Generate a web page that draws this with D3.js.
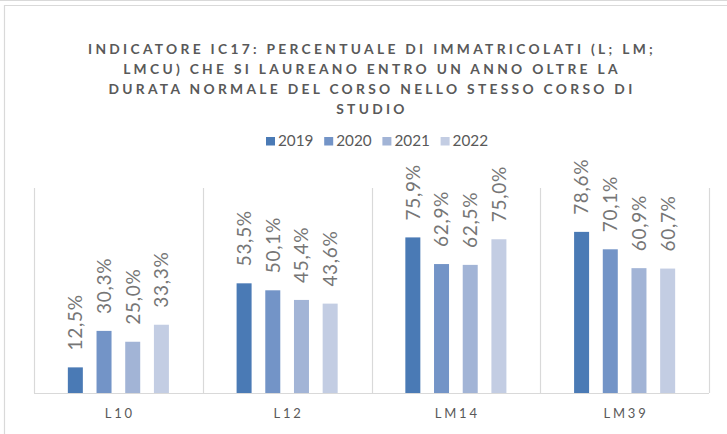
<!DOCTYPE html>
<html>
<head>
<meta charset="utf-8">
<script src="https://cdn.jsdelivr.net/npm/d3@7"></script>
<style>
  html, body { margin: 0; padding: 0; background: #fff; }
  svg { display: block; }
</style>
</head>
<body>
<svg id="chart" width="727" height="434"></svg>
<script>
// Corsi di studio e anni accademici
const categories = ["L10", "L12", "LM14", "LM39"];
const years = ["2019", "2020", "2021", "2022"];

// Percentuale per anno, nell'ordine di categories
const v2019 = [12.5, 53.5, 75.9, 78.6];
const v2020 = [30.3, 50.1, 62.9, 70.1];
const v2021 = [25.0, 45.4, 62.5, 60.9];
const v2022 = [33.3, 43.6, 75.0, 60.7];
const seriesValues = [v2019, v2020, v2021, v2022];

const titleLines = [
  "INDICATORE IC17: PERCENTUALE DI IMMATRICOLATI (L; LM;",
  "LMCU) CHE SI LAUREANO ENTRO UN ANNO OLTRE LA",
  "DURATA NORMALE DEL CORSO NELLO STESSO CORSO DI",
  "STUDIO"
];

const colors = ["#4a7ab5", "#7394c7", "#a2b4d6", "#c3cde3"];
const gridColor = "#d9d9d9";
const textColor = "#595959";
const font = "Lato, 'Open Sans', sans-serif";

const svg = d3.select("#chart");

// cornice del grafico
svg.append("line").attr("x1", 0).attr("x2", 727).attr("y1", 0.5).attr("y2", 0.5)
  .attr("stroke", gridColor).attr("stroke-width", 1);
svg.append("path")
  .attr("d", "M4.5,434 V5.5 H727")
  .attr("fill", "none").attr("stroke", gridColor).attr("stroke-width", 1.2);

// titolo
const title = svg.append("text")
  .attr("text-anchor", "middle")
  .attr("font-family", font)
  .attr("font-weight", "bold")
  .attr("font-size", 13.8)
  .attr("letter-spacing", 3.3)
  .attr("fill", textColor);
titleLines.forEach((t, i) => {
  title.append("tspan").attr("x", 372).attr("y", 54 + i * 20).text(t);
});

// area del grafico
const plot = { left: 34, right: 709, top: 188, bottom: 393 };

const x0 = d3.scaleBand().domain(categories).range([plot.left, plot.right]).padding(0);
const groupW = x0.bandwidth() * 0.68;
const x1 = d3.scaleBand().domain(years)
  .range([x0.bandwidth() / 2 - groupW / 2, x0.bandwidth() / 2 + groupW / 2])
  .paddingInner(0.477).paddingOuter(0.2385);
const y = d3.scaleLinear().domain([0, 100]).range([plot.bottom, plot.top]);

// linee verticali tra le categorie
const seps = categories.map(c => x0(c)).concat([plot.right]);
svg.append("g").selectAll("line").data(seps).join("line")
  .attr("x1", d => Math.round(d) + 0.5).attr("x2", d => Math.round(d) + 0.5)
  .attr("y1", plot.top).attr("y2", plot.bottom)
  .attr("stroke", gridColor).attr("stroke-width", 1.2);

// barre
const rows = [];
categories.forEach((c, ci) => {
  years.forEach((yr, si) => {
    rows.push({ cat: c, year: yr, si, value: seriesValues[si][ci] });
  });
});

svg.append("g").selectAll("rect").data(rows).join("rect")
  .attr("x", d => x0(d.cat) + x1(d.year))
  .attr("y", d => y(d.value))
  .attr("width", x1.bandwidth())
  .attr("height", d => y(0) - y(d.value))
  .attr("fill", d => colors[d.si]);

// etichette dei valori
const fmt = v => v.toFixed(1).replace(".", ",") + "%";
svg.append("g").selectAll("text").data(rows).join("text")
  .attr("transform", d => {
    const cx = x0(d.cat) + x1(d.year) + x1.bandwidth() / 2;
    return `translate(${cx},${y(d.value) - 17}) rotate(-90)`;
  })
  .attr("dy", "0.36em")
  .attr("text-anchor", "start")
  .attr("font-family", font)
  .attr("font-size", 19)
  .attr("letter-spacing", 0.7)
  .attr("fill", "#767676")
  .text(d => fmt(d.value));

// asse delle categorie
const xAxis = svg.append("g")
  .attr("transform", `translate(0,${plot.bottom})`)
  .call(d3.axisBottom(x0).tickSize(0).tickPadding(16));
xAxis.select(".domain")
  .attr("d", `M${plot.left},0.5H${plot.right}`)
  .attr("stroke", gridColor).attr("stroke-width", 1.2);
xAxis.selectAll(".tick text")
  .attr("font-family", font)
  .attr("font-size", 13)
  .attr("letter-spacing", 2.8)
  .attr("fill", textColor)
  .attr("dx", 1.4);

// legenda
const legendStep = 58.2;
const legendX0 = 266;
const legend = svg.append("g");
years.forEach((yr, i) => {
  const g = legend.append("g").attr("transform", `translate(${legendX0 + i * legendStep},137)`);
  g.append("rect").attr("width", 9).attr("height", 8.5).attr("fill", colors[i]);
  g.append("text").attr("x", 12).attr("y", 8.9)
    .attr("font-family", font).attr("font-size", 15.3)
    .attr("fill", textColor).text(yr);
});
</script>
</body>
</html>
